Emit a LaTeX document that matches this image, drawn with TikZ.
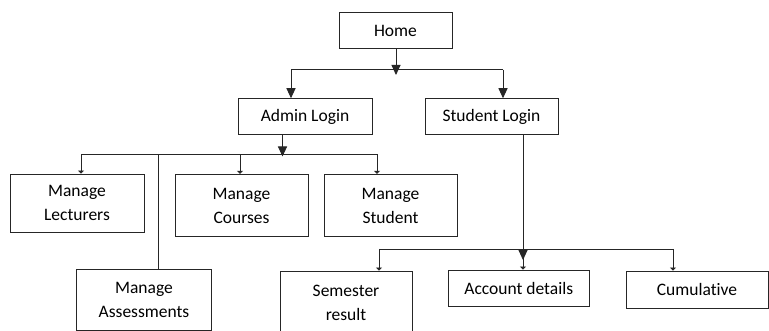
\documentclass[tikz,border=0pt]{standalone}
\usepackage{fontspec}
\setmainfont[Ligatures=NoCommon]{Carlito}
\usetikzlibrary{arrows.meta}
\begin{document}
\begin{tikzpicture}[x=1pt,y=-1pt,
  box/.style={draw=black!85,line width=0.9pt,inner sep=0pt,align=center,
    font=\fontsize{17.5}{24}\selectfont},
  conn/.style={draw=black!85,line width=0.9pt},
  bigarr/.style={conn,-{Triangle[width=9pt,length=10pt]}},
  smallarr/.style={conn,-{Triangle[width=6pt,length=3pt]}}]
\useasboundingbox (0,0) rectangle (769,331);
\fill[white] (0,0) rectangle (769,331);
% nodes
\node[box,minimum width=113pt,minimum height=36.4pt] (home) at (395.5,30.5) {Home};
\node[box,minimum width=134pt,minimum height=36pt] (admin) at (305,116.7) {Admin Login};
\node[box,minimum width=133pt,minimum height=36pt] (student) at (491.5,116.7) {Student Login};
\node[box,minimum width=134pt,minimum height=58pt] (lect) at (77,203) {Manage\\Lecturers};
\node[box,minimum width=133pt,minimum height=62.4pt] (course) at (241.5,205.5) {Manage\\Courses};
\node[box,minimum width=133pt,minimum height=62.4pt] (mstud) at (390.5,205.5) {Manage\\Student};
\node[box,minimum width=135.5pt,minimum height=61.4pt] (assess) at (144,300) {Manage\\Assessments};
\node[box,minimum width=132pt,minimum height=63pt] (sem) at (346,302.5) {Semester\\result};
\node[box,minimum width=141.5pt,minimum height=36.3pt] (acc) at (518.75,288.2) {Account details};
\node[box,minimum width=142pt,minimum height=37pt] (cum) at (697,289.5) {Cumulative};
% home branch
\coordinate (hm) at (396,75);
\coordinate (hl) at (291,69.7);
\coordinate (hr) at (503,69.7);
\draw[bigarr] (home.south -| hm) -- (hm);
\draw[conn] (hl) -- (hr);
\draw[bigarr] (hl) -- (hl |- admin.north);
\draw[bigarr] (hr) -- (hr |- student.north);
% admin branch
\coordinate (am) at (282.5,156.5);
\coordinate (al) at (81,154.5);
\coordinate (ar) at (377,154.5);
\coordinate (ac) at (240,154.5);
\coordinate (aa) at (158,154.5);
\draw[bigarr] (admin.south -| am) -- (am);
\draw[conn] (al) -- (ar);
\draw[smallarr] (al) -- (al |- lect.north);
\draw[smallarr] (ac) -- (ac |- course.north);
\draw[smallarr] (ar) -- (ar |- mstud.north);
\draw[conn] (aa) -- (aa |- assess.north);
% student branch
\coordinate (sm) at (523,260);
\coordinate (sl) at (379,249);
\coordinate (sr) at (673,249);
\coordinate (sc) at (523,249);
\draw[bigarr] (student.south -| sm) -- (sm);
\draw[conn] (sl) -- (sr);
\draw[smallarr] (sl) -- (sl |- sem.north);
\draw[smallarr] (sc) -- (sc |- acc.north);
\draw[smallarr] (sr) -- (sr |- cum.north);
\end{tikzpicture}
\end{document}
